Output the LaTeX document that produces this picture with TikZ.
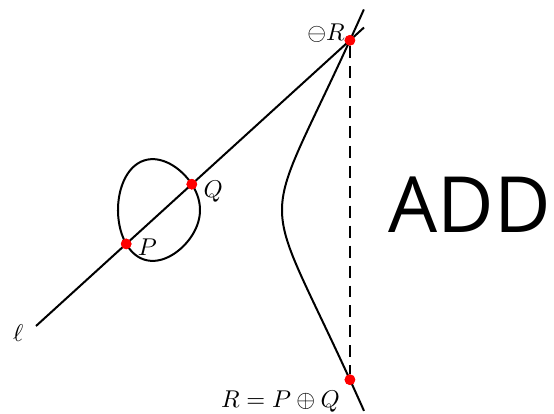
\documentclass[tikz,border=0pt]{standalone}
\usepackage{fontspec}
\newfontfamily\addfont{Open Sans}
\usetikzlibrary{positioning}
\begin{document}
\begin{tikzpicture}[x=1.3cm, y=1.3cm,
        curve/.style={line width=0.9pt, black},
        secant/.style={line width=0.9pt, black},
        vertical/.style={line width=0.9pt, dash pattern=on 5.4pt off 3.6pt},
        point/.style={circle, fill=red, inner sep=0pt, minimum size=4.8pt},
        ptlabel/.style={inner sep=1.5pt, font=\fontsize{11}{13}\selectfont}
    ]
        \path[use as bounding box] (-2.439, -2.476) rectangle (4.317, 2.561);

        % elliptic curve y^2 = x^3 - x
        \draw[curve] plot[domain=-1:1, samples=120, smooth, variable=\t]
            ({1+\t*\t}, {\t*sqrt((1+\t*\t)*(2+\t*\t))});
        \draw[curve] plot[domain=0:180, samples=120, smooth, variable=\a]
            ({-cos(\a)*cos(\a)}, {sin(\a)*cos(\a)*sqrt(1+cos(\a)*cos(\a))}) -- cycle;

        \coordinate (lstart) at (-2, -1.4146);
        \coordinate (lend) at (2, 2.2258);

        \node[point] (P) at (-0.9, -0.4135) {};
        \node[point] (Q) at (-0.1, 0.3146) {};
        \node[point] (mR) at (1.8283, 2.0695) {};
        \node[point] (R) at (1.8283, -2.0695) {};

        \draw[secant] (lstart) -- (lend);
        \draw[vertical] (mR) -- (R);

        \node[point] at (P) {};
        \node[point] at (Q) {};
        \node[point] at (mR) {};
        \node[point] at (R) {};

        \node[ptlabel, right=1pt of P, yshift=-1.5pt] (Plabel) {$P$};
        \node[ptlabel, right=1pt of Q, yshift=-3.5pt] (Qlabel) {$Q$};
        \node[ptlabel, left=-2pt of mR, yshift=3pt] (mRlabel) {$\ominus R$};
        \node[ptlabel, below left=1.5pt and 1pt of R] (Rlabel) {$R = P \oplus Q$};
        \node[ptlabel, left=4pt of lstart, yshift=-3pt] (ell) {$\ell$};

        \node[font=\addfont\fontsize{35}{40}\selectfont] (add) at (3.29, 0.06) {ADD};
    \end{tikzpicture}
\end{document}
